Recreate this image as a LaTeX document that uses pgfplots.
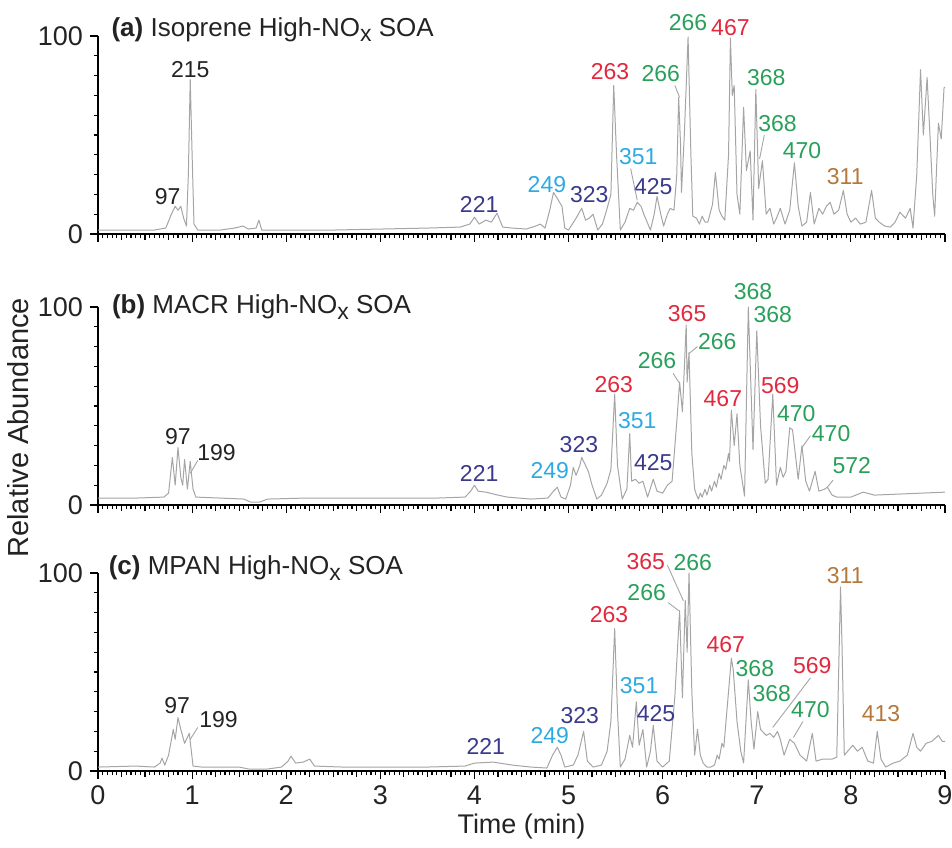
\documentclass[border=0pt]{standalone}
\usepackage{fontspec}
\setmainfont{Liberation Sans}
\usepackage{pgfplots}
\pgfplotsset{compat=1.18}
\definecolor{navy}{RGB}{58,58,140}
\definecolor{lblue}{RGB}{45,170,225}
\definecolor{pred}{RGB}{225,40,60}
\definecolor{pgreen}{RGB}{40,160,90}
\definecolor{pbrown}{RGB}{180,120,60}
\definecolor{dk}{RGB}{35,35,35}
\definecolor{trace}{RGB}{165,165,165}
\pgfplotsset{
  chrom/.style={
    scale only axis, width=423.5pt, height=99pt,
    xmin=0, xmax=9, ymin=0, ymax=100,
    axis lines=left, axis line style={-, line width=0.8pt},
    clip=false,
    xtick={0,...,9}, minor x tick num=19,
    ytick={0,100}, minor y tick num=9,
    tick align=outside, tick style={black, line width=0.6pt},
    major tick length=4pt, minor tick length=2pt,
    extra x ticks={0.25,0.5,0.75,1.25,1.5,1.75,2.25,2.5,2.75,3.25,3.5,3.75,4.25,4.5,4.75,5.25,5.5,5.75,6.25,6.5,6.75,7.25,7.5,7.75,8.25,8.5,8.75},
    extra x tick labels={},
    extra x tick style={major tick length=3pt},
    /pgf/number format/assume math mode=true,
    ticklabel style={font=\fontsize{13.5}{14}\selectfont, text=dk},
  },
  tr/.style={trace, line width=0.5pt, line join=round},
}
\newcommand\pk[4]{\node[font=\fontsize{11.5}{12}\selectfont, text=#4, inner sep=0pt] at (axis cs:#1,#2) {#3};}
\newcommand\ld[4]{\draw[trace, line width=0.45pt] (axis cs:#1,#2) -- (axis cs:#3,#4);}
\newcommand\ttl[4]{\node[anchor=base west, inner sep=0pt, font=\fontsize{13}{14}\selectfont, text=dk] at (axis cs:#1,#2) {\textbf{(#3)} #4 High-NO\raisebox{-2.8pt}{\fontsize{11.5}{12}\selectfont x} SOA};}
\begin{document}
\begin{tikzpicture}
\useasboundingbox (-49pt,-306.5pt) rectangle (427pt,117pt);
% ---------------- (a)
\begin{axis}[chrom, at={(0,0)}, xticklabels={}]
\addplot[tr] coordinates {
(0.00,2)(0.30,2)(0.60,2)(0.72,3)(0.78,10)(0.82,14)(0.85,12)(0.88,14)(0.91,8)(0.94,4)
(0.96,30)(0.98,78)(1.00,40)(1.02,5)(1.06,2)(1.30,2)(1.45,3)(1.54,4)(1.60,2.5)(1.68,3)
(1.71,7)(1.74,2)(2.00,2)(2.50,2)(3.00,2.5)(3.50,3)(3.85,3.5)(3.95,5)(4.00,8.5)(4.05,5)
(4.12,7)(4.18,6)(4.24,10.5)(4.30,3.5)(4.40,3)(4.55,2.5)(4.65,4)(4.70,5)(4.75,3)(4.80,12)
(4.84,21)(4.88,18)(4.93,14)(4.96,3)(5.00,2)(5.08,8)(5.14,13)(5.18,7)(5.22,8)(5.26,10)
(5.31,2)(5.36,5)(5.41,13)(5.45,20)(5.48,75)(5.51,40)(5.55,2)(5.60,6)(5.65,13)(5.69,12)
(5.73,16)(5.77,14)(5.80,10)(5.87,2)(5.91,10)(5.94,19)(5.98,10)(6.01,4)(6.05,10)(6.08,13)
(6.12,12)(6.15,30)(6.17,69)(6.19,45)(6.20,21)(6.23,50)(6.27,99.5)(6.30,40)(6.32,9)(6.36,8)
(6.39,5)(6.42,9)(6.45,6)(6.48,6)(6.53,15)(6.56,31)(6.60,12)(6.63,9)(6.66,7)(6.70,40)(6.72,99)(6.74,70)(6.76,75)
(6.79,20)(6.82,10)(6.86,64)(6.89,32)(6.93,42)(6.96,7)(6.99,73)(7.02,23)(7.06,37)(7.10,10)
(7.14,13)(7.18,5)(7.21,8)(7.25,13)(7.30,5)(7.35,12)(7.40,36)(7.44,14)(7.48,4)(7.53,6)
(7.57,21)(7.61,5)(7.66,13)(7.70,10)(7.74,14)(7.78,16)(7.82,10)(7.87,12)(7.92,22)(7.96,10)
(8.00,6)(8.05,8)(8.10,5)(8.16,6)(8.22,22)(8.26,8)(8.30,6)(8.36,4)(8.42,3.5)(8.47,6)
(8.52,11)(8.58,8)(8.63,13)(8.66,3)(8.70,30)(8.74,83)(8.77,50)(8.81,79)(8.84,50)(8.87,20)
(8.89,9)(8.93,56)(8.96,48)(8.99,74)(9.00,74)
};
\ttl{0.14}{100}{a}{Isoprene}
\pk{0.74}{19}{97}{dk}
\pk{0.98}{83}{215}{dk}
\pk{4.05}{15}{221}{navy}
\pk{4.77}{25}{249}{lblue}
\pk{5.22}{20}{323}{navy}
\pk{5.44}{82}{263}{pred}
\pk{5.74}{39}{351}{lblue}
\pk{5.90}{24}{425}{navy}
\pk{5.98}{81}{266}{pgreen}
\pk{6.27}{107}{266}{pgreen}
\pk{6.72}{104}{467}{pred}
\pk{7.10}{79}{368}{pgreen}
\pk{7.22}{56}{368}{pgreen}
\pk{7.48}{42}{470}{pgreen}
\pk{7.94}{29}{311}{pbrown}
\ld{6.13}{75}{6.18}{69}
\ld{7.08}{50}{7.03}{38}
\ld{5.66}{33}{5.73}{17}
\end{axis}
% ---------------- (b)
\begin{axis}[chrom, at={(0,-135.5pt)}, xticklabels={}]
\addplot[tr] coordinates {
(0.00,3.5)(0.40,3.5)(0.70,4)(0.75,6)(0.77,15)(0.79,24)(0.82,10)(0.85,29)(0.88,14)(0.90,10)
(0.92,23)(0.95,8)(0.98,22)(1.01,8)(1.04,4)(1.30,3.5)(1.55,3)(1.62,1.5)(1.72,1.5)(1.80,3)
(2.20,3.5)(3.00,3.5)(3.60,3.5)(3.90,4)(3.96,7)(4.00,10)(4.04,7)(4.12,6.5)(4.25,5)(4.35,4)
(4.60,3)(4.78,3.5)(4.84,7)(4.88,9)(4.92,4)(4.97,3)(5.02,10)(5.05,19)(5.08,15)(5.12,20)
(5.14,24)(5.18,20)(5.21,17)(5.25,10)(5.30,3)(5.35,5)(5.41,11)(5.45,18)(5.49,56)(5.52,20)
(5.57,3)(5.62,8)(5.65,36)(5.67,12)(5.71,13)(5.75,11)(5.79,12)(5.84,4)(5.90,13)(5.94,7)
(6.00,6)(6.05,10)(6.10,12)(6.15,42)(6.18,62)(6.21,47)(6.25,91)(6.26,62)(6.28,77)(6.31,26)
(6.34,8)(6.36,5)(6.38,3)(6.40,6)(6.42,4)(6.45,8)(6.47,5)(6.50,10)(6.52,7)(6.55,12)(6.57,9)
(6.60,16)(6.62,13)(6.65,20)(6.67,18)(6.70,26)(6.71,22)(6.73,48)(6.76,30)
(6.79,46)(6.82,20)(6.87,4.5)(6.91,100)(6.96,28)(7.00,88)(7.04,40)(7.09,11)(7.12,13)(7.17,56)
(7.21,10)(7.25,19)(7.28,14)(7.31,17)(7.35,39)(7.38,38)(7.44,13)(7.48,30)(7.52,12)(7.56,7)
(7.62,17)(7.66,7)(7.72,8)(7.75,9)(7.80,5)(7.85,4)(8.00,4)(8.13,6.5)(8.25,5)(8.50,5.5)
(8.75,6)(9.00,6.5)
};
\ttl{0.145}{96.6}{b}{MACR}
\pk{0.85}{34.5}{97}{dk}
\pk{1.26}{26.5}{199}{dk}
\pk{4.05}{16}{221}{navy}
\pk{4.80}{17.5}{249}{lblue}
\pk{5.11}{30.5}{323}{navy}
\pk{5.48}{61}{263}{pred}
\pk{5.73}{42.5}{351}{lblue}
\pk{5.90}{21.5}{425}{navy}
\pk{5.94}{73}{266}{pgreen}
\pk{6.26}{96.5}{365}{pred}
\pk{6.58}{82.5}{266}{pgreen}
\pk{6.64}{53.5}{467}{pred}
\pk{6.96}{108}{368}{pgreen}
\pk{7.17}{96}{368}{pgreen}
\pk{7.25}{60.5}{569}{pred}
\pk{7.42}{46}{470}{pgreen}
\pk{7.79}{36}{470}{pgreen}
\pk{8.01}{20}{572}{pgreen}
\ld{1.06}{22.5}{0.98}{16}
\ld{6.11}{66.5}{6.18}{61.5}
\ld{6.37}{80}{6.28}{76.5}
\ld{7.57}{35}{7.48}{29}
\ld{7.81}{12.5}{7.75}{9}
\node[rotate=90, font=\fontsize{14.5}{15}\selectfont, text=dk] at ([xshift=-40pt]rel axis cs:0,0.39) {Relative Abundance};
\end{axis}
% ---------------- (c)
\begin{axis}[chrom, at={(0,-268.5pt)}]
\addplot[tr] coordinates {
(0.00,2)(0.40,2.5)(0.60,2)(0.66,4)(0.68,6.5)(0.71,3)(0.75,8)(0.80,21)(0.82,16)(0.85,27)
(0.88,21)(0.92,14)(0.97,19)(1.01,2.5)(1.10,2)(1.50,2)(1.60,1)(1.80,1)(1.95,2)(2.02,5)
(2.05,7.5)(2.10,4)(2.18,4.5)(2.25,6)(2.30,2.5)(2.60,2)(3.00,2)(3.50,2)(3.90,2.5)(4.00,4)
(4.20,4.5)(4.40,3)(4.60,2)(4.77,1.5)(4.83,8)(4.88,12)(4.92,8)(4.96,2)(5.05,3)(5.10,8)
(5.16,20)(5.20,5)(5.26,2)(5.35,3)(5.41,10)(5.45,25)(5.49,72)(5.52,30)(5.55,2)(5.60,6)
(5.65,18)(5.68,12)(5.72,35)(5.75,13)(5.79,21)(5.83,2)(5.87,10)(5.90,23)(5.94,5)(6.00,2)
(6.07,5)(6.13,38)(6.18,81)(6.21,37)(6.24,86)(6.26,60)(6.28,100)(6.31,40)(6.34,8)(6.37,21)
(6.40,8)(6.43,4)(6.47,2)(6.51,2)(6.55,3)(6.58,8)(6.60,6)(6.63,14)(6.65,12)(6.68,29)(6.73,57)(6.75,51)(6.79,25)(6.83,10)
(6.86,4)(6.91,46)(6.94,25)(6.97,11)(7.01,30)(7.04,21)(7.10,18)(7.14,19)(7.18,17)(7.22,20)
(7.25,16)(7.29,8)(7.35,16)(7.40,14)(7.46,8)(7.53,5)(7.59,19)(7.63,5)(7.70,6)(7.80,6)
(7.85,7)(7.89,93)(7.905,65)(7.93,8)(8.02,13)(8.07,10)(8.12,12)(8.18,5)(8.24,4)(8.28,20)
(8.32,6)(8.37,2)(8.45,4)(8.52,5)(8.60,8)(8.66,19)(8.70,12)(8.74,10)(8.80,14)(8.86,15)
(8.93,18)(8.97,15)(9.00,15)
};
\ttl{0.11}{99}{c}{MPAN}
\pk{0.84}{33}{97}{dk}
\pk{1.28}{26}{199}{dk}
\pk{4.12}{12.6}{221}{navy}
\pk{4.80}{18}{249}{lblue}
\pk{5.12}{28}{323}{navy}
\pk{5.43}{79}{263}{pred}
\pk{5.75}{43}{351}{lblue}
\pk{5.93}{29}{425}{navy}
\pk{5.83}{90}{266}{pgreen}
\pk{5.82}{106}{365}{pred}
\pk{6.32}{105.5}{266}{pgreen}
\pk{6.67}{64}{467}{pred}
\pk{6.98}{51.5}{368}{pgreen}
\pk{7.16}{39}{368}{pgreen}
\pk{7.59}{53.5}{569}{pred}
\pk{7.57}{31}{470}{pgreen}
\pk{7.94}{98.5}{311}{pbrown}
\pk{8.32}{29}{413}{pbrown}
\ld{1.06}{22}{0.98}{16}
\ld{6.05}{104}{6.22}{86}
\ld{6.06}{85}{6.17}{81}
\ld{7.57}{47}{7.17}{22}
\ld{7.49}{25}{7.39}{17}
\node[font=\fontsize{13.5}{14}\selectfont, text=dk] at ([yshift=-27.5pt]axis cs:4.5,0) {Time (min)};
\end{axis}
\end{tikzpicture}
\end{document}
